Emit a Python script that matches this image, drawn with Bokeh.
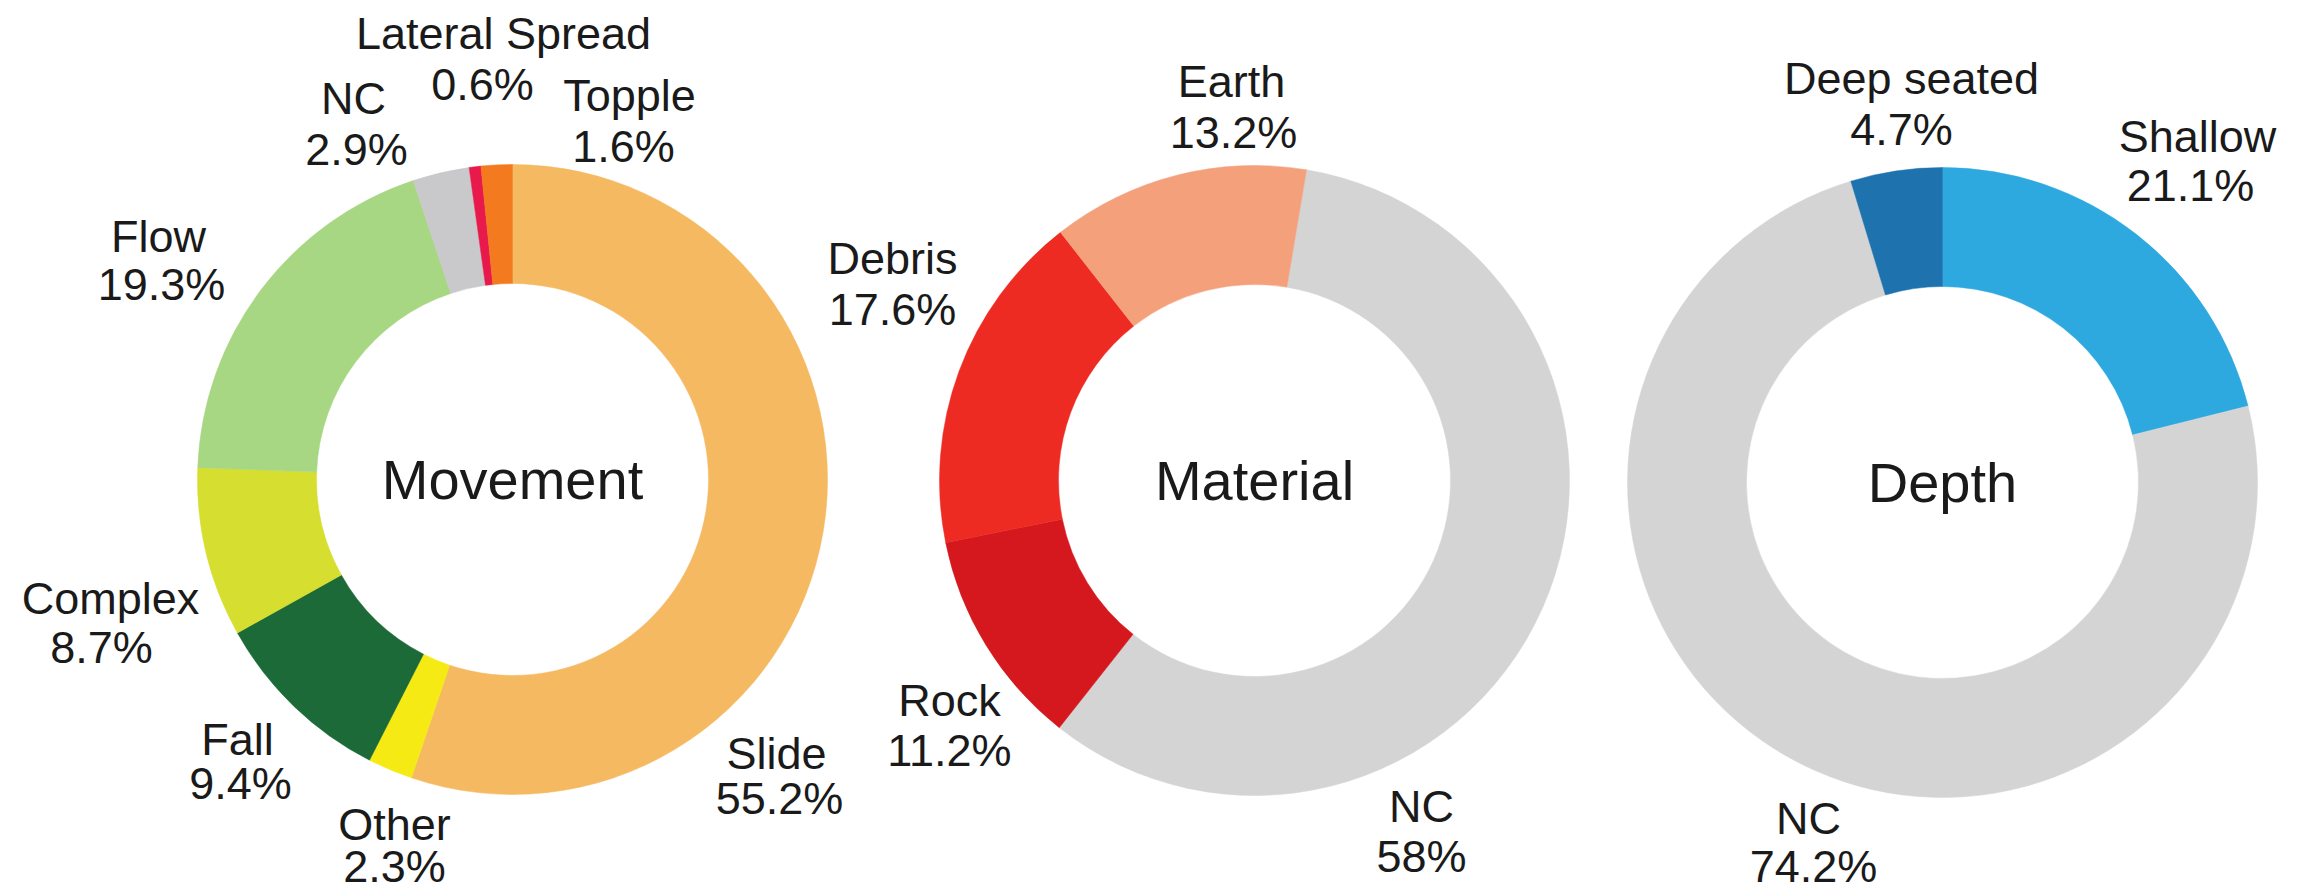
import math
from bokeh.plotting import figure
from bokeh.models import Range1d, ColumnDataSource
from bokeh.core.properties import value
from bokeh.embed import file_html
from bokeh.resources import INLINE

# ---------------- data ----------------
movement_labels = ["Slide", "Other", "Fall", "Complex", "Flow", "NC", "Lateral Spread", "Topple"]
movement_values = [55.2, 2.3, 9.4, 8.7, 19.3, 2.9, 0.6, 1.6]
movement_pct = ["55.2%", "2.3%", "9.4%", "8.7%", "19.3%", "2.9%", "0.6%", "1.6%"]

material_labels = ["NC", "Rock", "Debris", "Earth"]
material_values = [58.0, 11.2, 17.6, 13.2]
material_pct = ["58%", "11.2%", "17.6%", "13.2%"]

depth_labels = ["Shallow", "NC", "Deep seated"]
depth_values = [21.1, 74.2, 4.7]
depth_pct = ["21.1%", "74.2%", "4.7%"]

titles = ["Movement", "Material", "Depth"]

# ---------------- styles / layout ----------------
W, H = 2310, 896
movement_colors = ["#F5B961", "#F5EA14", "#1B6A37", "#D6DF2F", "#A8D784", "#C9C9CC", "#E8194B", "#F47A1F"]
material_colors = ["#D4D4D4", "#D5181E", "#EE2B22", "#F4A07B"]
depth_colors = ["#2EA9E0", "#D4D4D4", "#1E73AF"]

centers = [(512, 479), (1254, 480), (1942, 482)]   # image pixel coords
start_deg = [0.0, 9.5, 0.0]                         # clockwise from 12 o'clock
R_OUT, R_IN = 315, 196

# label line positions (image pixel coords): (name_x, name_y, value_x, value_y)
movement_lab_pos = [(776, 753, 779, 798), (394, 824, 394, 866), (237, 739, 240, 783),
                    (110, 598, 101, 647), (158, 236, 161, 284), (353, 98, 356, 149),
                    (503, 33, 482, 84), (629, 95, 623, 146)]
material_lab_pos = [(1421, 806, 1421, 856), (949, 700, 949, 750), (892, 258, 892, 309),
                    (1231, 81, 1233, 132)]
depth_lab_pos = [(2197, 136, 2190, 185), (1808, 818, 1813, 866), (1911, 78, 1901, 129)]

FONT = "Liberation Sans"
TXT = "#1a1a1a"

p = figure(width=W, height=H, x_range=Range1d(0, W), y_range=Range1d(0, H),
           output_backend="svg", toolbar_location=None, min_border=0,
           background_fill_color="white", border_fill_color="white")
p.axis.visible = False
p.grid.visible = False
p.outline_line_color = None

def donut(center, start, vals, colors):
    cx, cy = center
    total = sum(vals)
    cum = start
    starts, ends = [], []
    for v in vals:
        a0 = cum
        a1 = cum + v / total * 360.0
        # convert clockwise-from-top to bokeh (counterclockwise from +x)
        starts.append(math.radians(90.0 - a1))
        ends.append(math.radians(90.0 - a0))
        cum = a1
    src = ColumnDataSource(dict(x=[cx] * len(vals), y=[H - cy] * len(vals),
                                start=starts, end=ends, color=colors))
    p.annular_wedge(x="x", y="y", inner_radius=R_IN, outer_radius=R_OUT,
                    start_angle="start", end_angle="end", direction="anticlock",
                    fill_color="color", line_color="color", line_width=0.5, source=src)

def labels(names, pcts, pos):
    xs, ys, ts = [], [], []
    for n, t, (nx, ny, vx, vy) in zip(names, pcts, pos):
        xs += [nx, vx]
        ys += [H - ny, H - vy]
        ts += [n, t]
    src = ColumnDataSource(dict(x=xs, y=ys, text=ts))
    p.text(x="x", y="y", text="text", source=src, text_font=value(FONT),
           text_font_size=value("45px"), text_align="center", text_baseline="middle",
           text_color=TXT)

donut(centers[0], start_deg[0], movement_values, movement_colors)
donut(centers[1], start_deg[1], material_values, material_colors)
donut(centers[2], start_deg[2], depth_values, depth_colors)

labels(movement_labels, movement_pct, movement_lab_pos)
labels(material_labels, material_pct, material_lab_pos)
labels(depth_labels, depth_pct, depth_lab_pos)

tsrc = ColumnDataSource(dict(x=[c[0] for c in centers], y=[H - c[1] for c in centers], text=titles))
p.text(x="x", y="y", text="text", source=tsrc, text_font=value(FONT),
       text_font_size=value("56px"), text_align="center", text_baseline="middle",
       text_color=TXT)

open("out.html", "w").write(file_html(p, INLINE))
